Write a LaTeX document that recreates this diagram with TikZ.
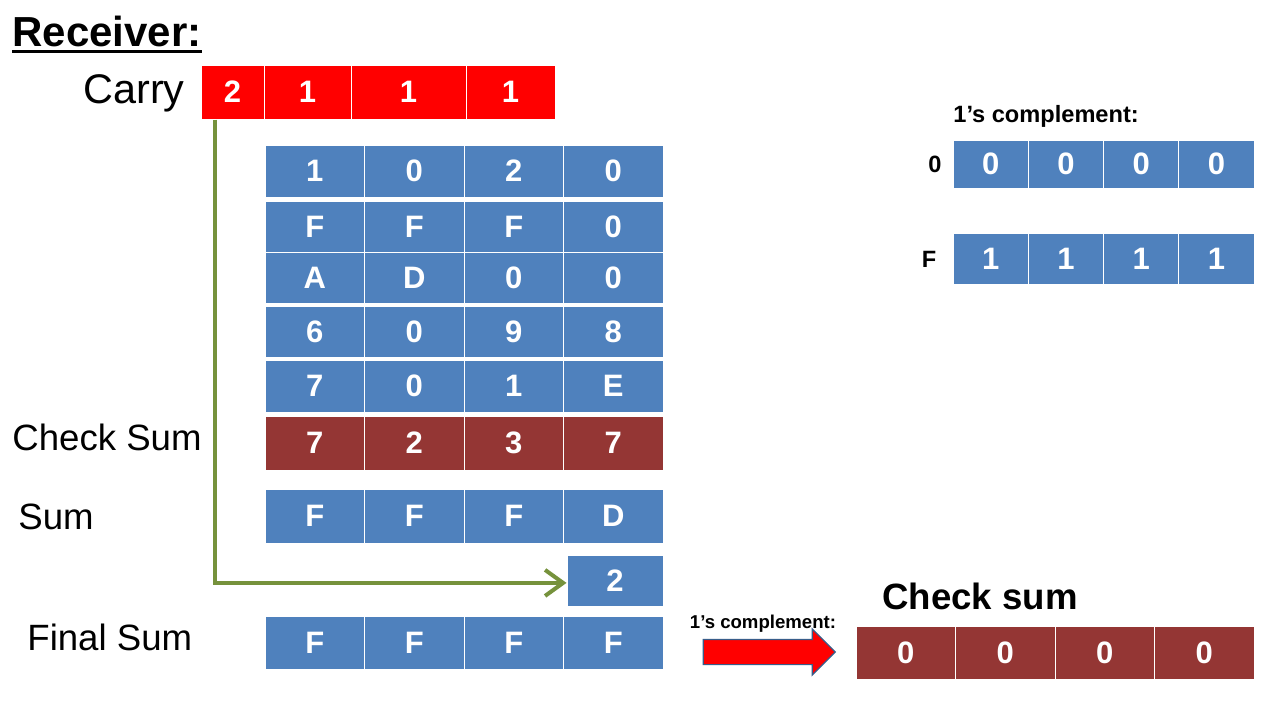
\documentclass[tikz,border=0pt]{standalone}
\usepackage{fontspec}
\setmainfont{Liberation Sans}
\usetikzlibrary{arrows.meta,shapes.arrows}
\definecolor{cblue}{HTML}{4F81BD}
\definecolor{cdred}{HTML}{943634}
\definecolor{cred}{HTML}{FF0000}
\definecolor{cgreen}{HTML}{76923C}
\definecolor{cnavy}{HTML}{385D8A}
\tikzset{
  cellbox/.style={draw=white, line width=0.5pt, text=white, inner sep=0pt,
    font=\bfseries\fontsize{15.5}{15.5}\selectfont},
  biglabel/.style={inner sep=0pt, font=\fontsize{18.3}{18.3}\selectfont},
  smallbold/.style={inner sep=0pt, font=\bfseries\fontsize{11.8}{11.8}\selectfont},
  greenarrow/.style={draw=cgreen, line width=2pt, -{Straight Barb[length=9pt,width=13pt,line width=2pt]}},
  redarrow/.style={single arrow, fill=cred, draw=cnavy, line width=0.6pt, inner sep=6pt,
    minimum width=22.5pt, minimum height=66pt, single arrow head extend=5.25pt, single arrow head indent=0pt}
}
% name, colour, xleft, cell width, ytop, height, values
\newcommand\mkrow[7]{%
  \foreach \v [count=\i] in {#7} {
    \node[cellbox, fill=#2, minimum width=#4*0.5pt, minimum height=#6*0.5pt]
      (#1\i) at ({#3+(\i-0.5)*#4}, {#5+#6/2}) {\v};
  }}
\begin{document}
\begin{tikzpicture}[x=0.5pt,y=-0.5pt]
\useasboundingbox[fill=white] (0,0) rectangle (1280,720);

% title
\node[anchor=base west, inner sep=0pt, font=\bfseries\fontsize{21}{21}\selectfont] (title) at (12,46) {Receiver:};
\draw[line width=1.5pt] ([yshift=-2.7pt]title.base west) -- ([yshift=-2.7pt]title.base east);

% carry
\node[anchor=base east, inner sep=0pt, font=\fontsize{20.7}{20.7}\selectfont] (carrylbl) at (185,103) {Carry};
\node[cellbox, fill=cred, minimum width=31.5pt, minimum height=27pt] (cr1) at (232.5,92) {2};
\node[cellbox, fill=cred, minimum width=43.5pt, minimum height=27pt] (cr2) at (307.5,92) {1};
\node[cellbox, fill=cred, minimum width=57.5pt, minimum height=27pt] (cr3) at (408.5,92) {1};
\node[cellbox, fill=cred, minimum width=44.5pt, minimum height=27pt] (cr4) at (510.5,92) {1};

% main table
\mkrow{ra}{cblue}{265}{99.5}{145}{52}{1,0,2,0}
\mkrow{rb}{cblue}{265}{99.5}{201}{51}{F,F,F,0}
\mkrow{rc}{cblue}{265}{99.5}{252}{51}{A,D,0,0}
\mkrow{rd}{cblue}{265}{99.5}{306}{51}{6,0,9,8}
\mkrow{re}{cblue}{265}{99.5}{360}{52}{7,0,1,E}
\mkrow{cs}{cdred}{265}{99.5}{416}{54}{7,2,3,7}
\mkrow{sm}{cblue}{265}{99.5}{489}{54}{F,F,F,D}
\node[cellbox, fill=cblue, minimum width=48pt, minimum height=25.5pt] (k2) at (615,580.5) {2};
\mkrow{fs}{cblue}{265}{99.5}{616}{53}{F,F,F,F}

% left labels
\node[biglabel, anchor=west] (lcs) at (12,437) {Check Sum};
\node[biglabel, anchor=west] (lsum) at (18,517) {Sum};
\node[biglabel, anchor=west] (lfs) at (27,637) {Final Sum};

% green carry arrow
\draw[greenarrow] ([xshift=7pt]cr1.south west) |- ([yshift=-1.2pt]k2.west);

% right side complements
\node[smallbold, anchor=west] (comp1) at (953,116) {1’s complement:};
\mkrow{za}{cblue}{953}{75.25}{140}{48}{0,0,0,0}
\node[smallbold] (zl) at (935,164) {0};
\mkrow{fa}{cblue}{953}{75.25}{233}{51}{1,1,1,1}
\node[smallbold] (fl) at (929,259) {F};

% bottom right
\node[inner sep=0pt, font=\bfseries\fontsize{9.3}{9.3}\selectfont] (comp2) at (763,624) {1’s complement:};
\node[redarrow] (rarr) at (763,652) {};
\node[inner sep=0pt, font=\bfseries\fontsize{18.3}{18.3}\selectfont] (cslbl) at (980,596) {Check sum};
\mkrow{res}{cdred}{856}{99.5}{626}{53}{0,0,0,0}
\end{tikzpicture}
\end{document}
